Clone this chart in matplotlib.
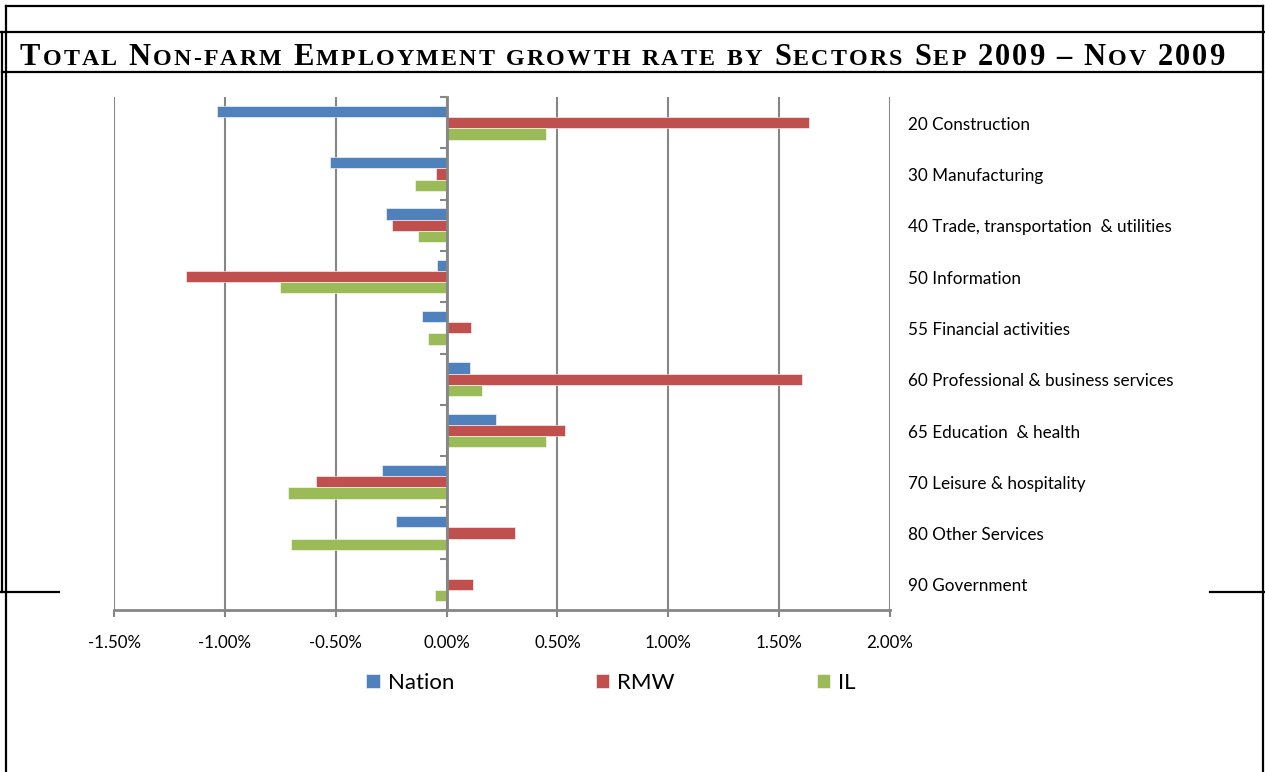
import matplotlib
matplotlib.use("Agg")
import matplotlib.pyplot as plt
import matplotlib.transforms as mtransforms
from matplotlib.lines import Line2D
import numpy as np

# growth rate, percent, Sep 2009 - Nov 2009
sectors = ["20 Construction", "30 Manufacturing", "40 Trade, transportation  & utilities",
           "50 Information", "55 Financial activities", "60 Professional & business services",
           "65 Education  & health", "70 Leisure & hospitality", "80 Other Services",
           "90 Government"]
nation = [-1.035, -0.525, -0.271, -0.041, -0.111, 0.105, 0.225, -0.290, -0.226, 0.0]
rmw = [1.634, -0.047, -0.245, -1.175, 0.111, 1.601, 0.532, -0.588, 0.310, 0.117]
il = [0.449, -0.143, -0.129, -0.753, -0.086, 0.162, 0.449, -0.716, -0.702, -0.053]
series_names = ["Nation", "RMW", "IL"]
series_colors = ["#4F81BD", "#C0504D", "#9BBB59"]
xticks = [-1.5, -1.0, -0.5, 0.0, 0.5, 1.0, 1.5, 2.0]
title = "Total Non-farm Employment growth rate by Sectors Sep 2009 \u2013 Nov 2009"

W, H = 1265, 772
fig = plt.figure(figsize=(W / 100, H / 100), dpi=100)
fig.patch.set_facecolor("white")
label_font = "Lato"
GRAY = "#868686"


def fx(x):
    return x / W


def fy(y):
    return 1 - y / H


ax = fig.add_axes([fx(114), fy(610), fx(890) - fx(114), fy(97) - fy(610)])

y = np.arange(len(sectors))
h = 0.22
for k, (vals, name, col) in enumerate(zip([nation, rmw, il], series_names, series_colors)):
    ax.barh(y + (k - 1) * h, vals, height=h, color=col, label=name,
            edgecolor="white", linewidth=0.4, zorder=3)

ax.set_xlim(-1.5, 2.0)
ax.set_ylim(len(sectors) - 0.5, -0.5)
ax.set_xticks(xticks)
ax.set_xticklabels(["%.2f%%" % v for v in xticks], fontsize=12.2, family=label_font)
ax.tick_params(axis="x", length=5, width=1.5, color=GRAY, pad=13)
ax.grid(axis="x", color=GRAY, linewidth=1.5, zorder=0)

# category axis sits on the zero line, ticks at band boundaries
ax.spines["left"].set_position(("data", 0))
ax.spines["left"].set_color(GRAY)
ax.spines["left"].set_linewidth(2)
ax.spines["left"].set_zorder(4)
ax.set_yticks(np.arange(len(sectors) + 1) - 0.5)
ax.set_yticklabels([])
ax.tick_params(axis="y", length=5, width=1.5, color=GRAY, direction="out")
ax.spines["bottom"].set_color(GRAY)
ax.spines["bottom"].set_linewidth(2)
for s in ("top", "right"):
    ax.spines[s].set_visible(False)

trans = mtransforms.blended_transform_factory(ax.transAxes, ax.transData)
for i, name in enumerate(sectors):
    ax.text((908 - 114) / 776, i + 0.04, name, transform=trans, va="center", ha="left",
            fontsize=12.3, family=label_font, color="black")

fig.legend(loc="center", bbox_to_anchor=(fx(611), fy(683)), ncol=3, frameon=False,
           handlelength=0.6, handleheight=0.6, handletextpad=0.35, columnspacing=6.4,
           prop={"family": label_font, "size": 16})

# page frame lines
frame = [((6, 6), (1263, 6)), ((0, 32), (1265, 32)), ((2, 72), (1263, 72)),
         ((6, 6), (6, 772)), ((2, 32), (2, 592)), ((0, 592), (59, 592)),
         ((1263, 6), (1263, 772)), ((1210, 592), (1265, 592))]
for (x0, y0), (x1, y1) in frame:
    fig.add_artist(Line2D([fx(x0), fx(x1)], [fy(y0), fy(y1)], color="black",
                          linewidth=1.6, transform=fig.transFigure))

# small-caps title, letter-spaced to run from x=20 to x=1225
renderer = fig.canvas.get_renderer()
chars = []
for ch in title:
    big = not (ch.islower() or ch == "-")
    chars.append((ch.upper() if ch != " " else "\u00a0", 22.0 if big else 17.3))


def char_width(c, size):
    t = fig.text(0, 0, c, fontsize=size, family="Liberation Serif", fontweight="bold")
    w = t.get_window_extent(renderer).width
    t.remove()
    return w


widths = [char_width(c, s) for c, s in chars]
track = (1205 - sum(widths)) / (len(chars) - 1)
x = 20
for (c, size), w in zip(chars, widths):
    fig.text(fx(x), fy(65), c, fontsize=size, family="Liberation Serif",
             fontweight="bold", va="baseline", ha="left", color="black")
    x += w + track

fig.savefig("out.png", dpi=100, facecolor="white")
